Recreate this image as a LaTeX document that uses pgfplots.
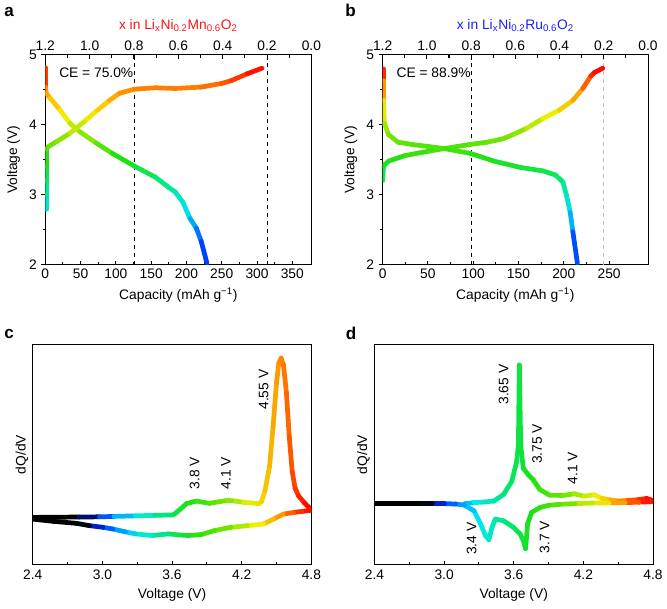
\documentclass[border=0pt]{standalone}
\usepackage{pgfplots}
\pgfplotsset{compat=1.18}
\usepackage{fontspec}
\setmainfont{Liberation Sans}

% voltage colour scales (1pt = 0.01 V)
\pgfplotsset{
  colormap={amap}{rgb255(0pt)=(0,30,255); rgb255(40pt)=(0,110,255); rgb255(75pt)=(0,225,240); rgb255(110pt)=(0,235,150); rgb255(150pt)=(30,225,20); rgb255(185pt)=(150,230,0); rgb255(210pt)=(240,240,0); rgb255(235pt)=(255,190,0); rgb255(250pt)=(255,140,0); rgb255(280pt)=(255,0,0)},
  colormap={vmap}{rgb255(0pt)=(0,30,255); rgb255(40pt)=(0,110,255); rgb255(75pt)=(0,225,240); rgb255(110pt)=(0,235,150); rgb255(150pt)=(30,225,20); rgb255(190pt)=(140,230,0); rgb255(215pt)=(235,240,0); rgb255(250pt)=(255,150,0); rgb255(280pt)=(255,0,0)},
  colormap={dmap}{rgb255(0pt)=(0,0,0); rgb255(42pt)=(0,0,0); rgb255(58pt)=(0,40,255); rgb255(72pt)=(0,150,255); rgb255(90pt)=(0,235,240); rgb255(115pt)=(0,230,110); rgb255(135pt)=(30,225,20); rgb255(165pt)=(110,230,0); rgb255(192pt)=(240,240,0); rgb255(212pt)=(255,150,0); rgb255(228pt)=(255,50,0); rgb255(240pt)=(255,0,0)},
  myax/.style={scale only axis, anchor=south west,
    axis line style={line width=0.8pt},
    every tick/.style={black, line width=0.8pt},
    major tick length=3pt, minor tick length=2pt,
    /pgf/number format/assume math mode=true},
  onedec/.style={xticklabel style={/pgf/number format/fixed, /pgf/number format/fixed zerofill, /pgf/number format/precision=1}},
  curve/.style={mesh, line width=3.6pt, line cap=round, line join=round},
}
\definecolor{tred}{RGB}{255,20,20}
\definecolor{tblue}{RGB}{30,30,255}

\begin{document}
\begin{tikzpicture}[font=\fontsize{10.5}{12}\selectfont]
\path (0,0) rectangle (500.25pt,-462pt);

% ---- a ----
\begin{axis}[myax, at={(31.28pt,-200pt)}, width=202.5pt, height=159.5pt,
  xmin=0, xmax=377, ymin=2, ymax=5,
  xtick={0,50,...,350}, minor x tick num=1, ytick={2,3,4,5}, minor y tick num=1,
  xtick pos=left, ytick pos=left, xtick align=inside, ytick align=outside,
  xlabel={Capacity (mAh g\textsuperscript{−1})}, ylabel={Voltage (V)},
  colormap name=amap, point meta min=2, point meta max=4.8]
\addplot[black, dashed, line width=0.5pt, forget plot] coordinates {(125.7,2) (125.7,5)};
\addplot[black, dashed, line width=0.6pt, forget plot] coordinates {(314.2,2) (314.2,5)};
\addplot[curve, point meta=y] coordinates {
(1.3,2.79) (1.3,3.0) (1.3,3.2) (1.3,3.4) (1.3,3.65) (4.6,3.69) (16,3.76) (35,3.88) (58,4.07) (74,4.21) (91,4.35) (105,4.45) (126,4.51) (156,4.53) (184,4.52) (221,4.54) (249,4.59) (263,4.63) (286,4.73) (307,4.81)};
\addplot[curve, point meta=y] coordinates {
(0,4.82) (0,4.54) (1.5,4.45) (7,4.38) (21,4.21) (35,4.02) (49,3.90) (72,3.74) (95,3.59) (126,3.41) (156,3.25) (174,3.11) (184,3.04) (195,2.89) (205,2.66) (214,2.52) (221,2.33) (229,2.02)};
\node[anchor=west] at (rel axis cs:0.035,0.917) {CE = 75.0\%};
\end{axis}
\begin{axis}[myax, at={(31.28pt,-200pt)}, width=202.5pt, height=159.5pt,
  xmin=0, xmax=1.2, x dir=reverse, ymin=0, ymax=1,
  axis x line*=top, axis y line=none, onedec,
  xtick={0,0.2,0.4,0.6,0.8,1.0,1.2}, minor x tick num=1, xtick align=inside,
  xlabel={x in Li\textsubscript{x}Ni\textsubscript{0.2}Mn\textsubscript{0.6}O\textsubscript{2}}, xlabel style={tred}]
\end{axis}

% ---- b ----
\begin{axis}[myax, at={(288pt,-200pt)}, width=202pt, height=159.5pt,
  xmin=0, xmax=293, ymin=2, ymax=5,
  xtick={0,50,...,250}, minor x tick num=1, ytick={2,3,4,5}, minor y tick num=1,
  xtick pos=left, ytick pos=left, xtick align=inside, ytick align=outside,
  xlabel={Capacity (mAh g\textsuperscript{−1})}, ylabel={Voltage (V)},
  colormap name=vmap, point meta min=2, point meta max=4.8]
\addplot[black, dashed, line width=0.5pt, forget plot] coordinates {(97.7,2) (97.7,5)};
\addplot[black!25, dashed, line width=0.6pt, forget plot] coordinates {(244.2,2) (244.2,5)};
\addplot[curve, point meta=y] coordinates {
(0,3.20) (1,3.41) (6.5,3.48) (25,3.56) (50,3.62) (68,3.66) (97,3.72) (115,3.75) (133,3.80) (144,3.86) (159,3.95) (177,4.09) (195,4.21) (210,4.35) (221,4.52) (230,4.70) (234,4.75) (243,4.81)};
\addplot[curve, point meta=y] coordinates {
(1,4.80) (1,4.63) (1,4.35) (2,4.02) (6.5,3.86) (17,3.75) (32,3.72) (50,3.69) (68,3.66) (97,3.59) (123,3.48) (152,3.39) (177,3.34) (191,3.28) (199,3.18) (203,2.99) (207,2.75) (210,2.47) (215,2.02)};
\node[anchor=west] at (rel axis cs:0.035,0.917) {CE = 88.9\%};
\end{axis}
\begin{axis}[myax, at={(288pt,-200pt)}, width=202pt, height=159.5pt,
  xmin=0, xmax=1.2, x dir=reverse, ymin=0, ymax=1,
  axis x line*=top, axis y line=none, onedec,
  xtick={0,0.2,0.4,0.6,0.8,1.0,1.2}, minor x tick num=1, xtick align=inside,
  xlabel={x in Li\textsubscript{x}Ni\textsubscript{0.2}Ru\textsubscript{0.6}O\textsubscript{2}}, xlabel style={tblue}]
\end{axis}

% ---- c ----
\begin{axis}[myax, at={(21.75pt,-428.6pt)}, width=212pt, height=167.9pt,
  xmin=2.4, xmax=4.8, ymin=0, ymax=224, onedec,
  xtick={2.4,3.0,3.6,4.2,4.8}, minor x tick num=1, ytick=\empty,
  xtick pos=left, xtick align=inside,
  xlabel={Voltage (V)}, ylabel={dQ/dV},
  colormap name=dmap, point meta min=2.4, point meta max=4.8]
\addplot[curve, point meta=x] coordinates {
(2.4,48.2) (2.6,48.4) (2.8,48.6) (2.975,48.8) (3.1,49.2) (3.285,49.8) (3.45,50.3) (3.611,50.8) (3.654,54.8) (3.724,62.2) (3.809,64.8) (3.922,62.5) (4.0,64) (4.078,65.5) (4.15,64.8) (4.219,63.5) (4.346,62.2) (4.37,64) (4.40,75) (4.44,100) (4.47,140) (4.50,185) (4.52,205) (4.54,210) (4.56,203) (4.585,175) (4.61,130) (4.635,95) (4.66,78) (4.69,70) (4.74,63) (4.8,56)};
\addplot[curve, point meta=x] coordinates {
(4.8,55.5) (4.72,54.3) (4.644,53.2) (4.559,51.5) (4.474,46.5) (4.389,41.5) (4.248,39.8) (4.106,38.2) (3.965,34.8) (3.852,30.8) (3.739,29.8) (3.65,30.5) (3.569,31.5) (3.427,29.8) (3.285,31.5) (3.2,33.5) (3.088,36.5) (3.003,38.2) (2.89,39.8) (2.776,42.2) (2.578,44.2) (2.4,46.5)};
\node[rotate=90] at (axis cs:4.389,178) {4.55 V};
\node[rotate=90] at (axis cs:3.795,93) {3.8 V};
\node[rotate=90] at (axis cs:4.064,93) {4.1 V};
\end{axis}

% ---- d ----
\begin{axis}[myax, at={(281.8pt,-428.6pt)}, width=212pt, height=167.9pt,
  xmin=2.4, xmax=4.8, ymin=0, ymax=224, onedec,
  xtick={2.4,3.0,3.6,4.2,4.8}, minor x tick num=1, ytick=\empty,
  xtick pos=left, xtick align=inside,
  xlabel={Voltage (V)}, ylabel={dQ/dV},
  colormap name=dmap, point meta min=2.4, point meta max=4.8]
\addplot[curve, point meta=x] coordinates {
(3.178,62.2) (3.258,63.2) (3.34,63.8) (3.428,64.8) (3.512,71.5) (3.583,84.8) (3.625,104.8) (3.64,121.5) (3.648,203) (3.66,121.5) (3.682,98.2) (3.725,91.5) (3.767,86.5) (3.824,76.5) (3.908,70.8) (4.022,70.5) (4.121,72.2) (4.206,69.8) (4.29,71.2) (4.362,67.5) (4.43,66) (4.503,64.8) (4.59,65.5) (4.673,66.2) (4.744,67.5) (4.795,65.5)};
\addplot[curve, point meta=x] coordinates {
(4.795,64.2) (4.68,63.7) (4.56,63.2) (4.42,63) (4.277,62.8) (4.13,62.2) (3.993,61.5) (3.9,60.5) (3.824,58.2) (3.753,53.2) (3.719,41.5) (3.702,16.5) (3.682,24.8) (3.654,31.5) (3.597,38.2) (3.512,44.8) (3.441,46.5) (3.413,38.2) (3.385,25.5) (3.356,29.8) (3.314,41.5) (3.258,54.8) (3.173,60.8) (3.1,61.8) (3.003,62.2) (2.9,62.2) (2.776,62.2) (2.6,62.2) (2.4,62.2)};
\node[rotate=90] at (axis cs:3.512,183) {3.65 V};
\node[rotate=90] at (axis cs:3.801,123) {3.75 V};
\node[rotate=90] at (axis cs:4.107,98) {4.1 V};
\node[rotate=90] at (axis cs:3.237,26.5) {3.4 V};
\node[rotate=90] at (axis cs:3.866,28) {3.7 V};
\end{axis}

\node[font=\bfseries\fontsize{13}{14}\selectfont] at (3.75pt,-7.5pt) {a};
\node[font=\bfseries\fontsize{13}{14}\selectfont] at (263.6pt,-6.8pt) {b};
\node[font=\bfseries\fontsize{13}{14}\selectfont] at (3.75pt,-253.1pt) {c};
\node[font=\bfseries\fontsize{13}{14}\selectfont] at (264pt,-252.4pt) {d};
\end{tikzpicture}
\end{document}
